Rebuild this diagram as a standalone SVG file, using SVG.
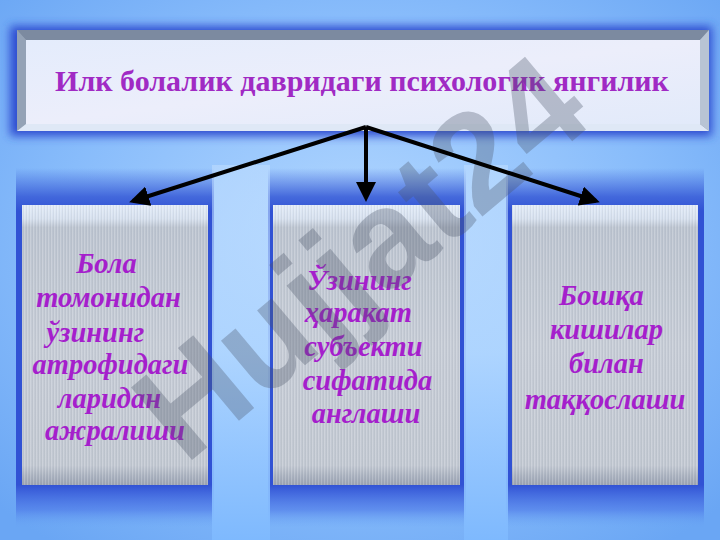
<svg xmlns="http://www.w3.org/2000/svg" width="720" height="540" viewBox="0 0 720 540">
  <defs>
    <radialGradient id="bg" cx="0.5" cy="0.45" r="0.7">
      <stop offset="0" stop-color="#b4d8ff"/>
      <stop offset="0.6" stop-color="#88bcfb"/>
      <stop offset="1" stop-color="#6aa6f4"/>
    </radialGradient>
    <linearGradient id="colShade" x1="0" y1="0" x2="0" y2="1">
      <stop offset="0" stop-color="#3a5ed8" stop-opacity="0"/>
      <stop offset="0.08" stop-color="#3a5ed8" stop-opacity="0.9"/>
      <stop offset="0.12" stop-color="#3152d4" stop-opacity="1"/>
      <stop offset="0.88" stop-color="#3152d4" stop-opacity="1"/>
      <stop offset="0.95" stop-color="#4a74e6" stop-opacity="0.6"/>
      <stop offset="1" stop-color="#6aa6f4" stop-opacity="0"/>
    </linearGradient>
    <linearGradient id="gap" x1="0" y1="0" x2="0" y2="1">
      <stop offset="0" stop-color="#c4e0ff" stop-opacity="0.5"/>
      <stop offset="0.5" stop-color="#b0d6ff" stop-opacity="0.9"/>
      <stop offset="1" stop-color="#7fbaff" stop-opacity="0.9"/>
    </linearGradient>
    <linearGradient id="boxFill" x1="0" y1="0" x2="0" y2="1">
      <stop offset="0" stop-color="#e2ebf8"/>
      <stop offset="0.05" stop-color="#d6e0ee"/>
      <stop offset="0.08" stop-color="#bcc4d0"/>
      <stop offset="0.5" stop-color="#c6ccd6"/>
      <stop offset="0.93" stop-color="#c2c8d2"/>
      <stop offset="0.97" stop-color="#a8b0be"/>
      <stop offset="1" stop-color="#9aa2b2"/>
    </linearGradient>
    <pattern id="stripes" width="3" height="12" patternUnits="userSpaceOnUse">
      <rect x="0" y="0" width="1" height="12" fill="#ffffff" opacity="0.18"/>
      <rect x="2" y="0" width="1" height="12" fill="#8a92a0" opacity="0.12"/>
    </pattern>
    <linearGradient id="titleFill" x1="0" y1="0" x2="1" y2="1">
      <stop offset="0" stop-color="#e4ecfc"/>
      <stop offset="0.5" stop-color="#eceefb"/>
      <stop offset="1" stop-color="#e2eafa"/>
    </linearGradient>
    <filter id="blur" x="-10%" y="-30%" width="120%" height="160%">
      <feGaussianBlur stdDeviation="5"/>
    </filter>
    <marker id="arr" markerWidth="5" markerHeight="5" refX="4" refY="2.5" orient="auto" markerUnits="strokeWidth">
      <path d="M0,0 L5,2.5 L0,5 Z" fill="#000"/>
    </marker>
    <style>
      .title { font-family: "Liberation Serif", "DejaVu Serif", serif; font-weight: bold; font-size: 30px; fill: #a02ac4; text-anchor: middle; }
      .lbl { font-family: "Liberation Serif", "DejaVu Serif", serif; font-weight: bold; font-style: italic; font-size: 28.5px; fill: #a51fcc; text-anchor: middle; }
      .conn { stroke: #000; stroke-width: 4; fill: none; }
      .wm { font-family: "Liberation Sans", "DejaVu Sans", sans-serif; font-weight: bold; font-size: 138px; fill: #4a5468; opacity: 0.32; }
    </style>
  </defs>

  <!-- background -->
  <rect width="720" height="540" fill="url(#bg)"/>

  <!-- column shades -->
  <rect x="16" y="168" width="198" height="360" fill="url(#colShade)"/>
  <rect x="268" y="168" width="198" height="360" fill="url(#colShade)"/>
  <rect x="506" y="168" width="198" height="360" fill="url(#colShade)"/>
  <rect x="212" y="165" width="58" height="375" fill="url(#gap)"/>
  <rect x="464" y="165" width="44" height="375" fill="url(#gap)"/>

  <!-- title node -->
  <g id="title">
    <rect x="10" y="26" width="702" height="110" fill="#2e4cd0" filter="url(#blur)"/>
    <rect x="17" y="30" width="692" height="101" fill="#8e9cb0"/>
    <polygon points="17,30 709,30 700,40 26,40" fill="#7c8aa0"/>
    <polygon points="17,30 26,40 26,124 17,131" fill="#94a2b6"/>
    <polygon points="17,131 26,124 700,124 709,131" fill="#dfe8f6"/>
    <polygon points="709,30 709,131 700,124 700,40" fill="#b8c4d4"/>
    <rect x="26" y="40" width="674" height="84" fill="url(#titleFill)"/>
    <text class="title" x="362" y="91">Илк болалик давридаги психологик янгилик</text>
  </g>

  <!-- boxes -->
  <g id="box1">
    <rect x="22" y="205" width="186" height="280" fill="url(#boxFill)"/>
    <rect x="22" y="205" width="186" height="280" fill="url(#stripes)"/>
    <text class="lbl">
      <tspan x="110" y="273">Бола</tspan>
      <tspan x="112" y="307">томонидан</tspan>
      <tspan x="99" y="342">ўзининг</tspan>
      <tspan x="114" y="374">атрофидаги</tspan>
      <tspan x="113" y="408">ларидан</tspan>
      <tspan x="115" y="440">ажралиши</tspan>
    </text>
  </g>
  <g id="box2">
    <rect x="273" y="205" width="187" height="280" fill="url(#boxFill)"/>
    <rect x="273" y="205" width="187" height="280" fill="url(#stripes)"/>
    <text class="lbl">
      <tspan x="363" y="290">Ўзининг</tspan>
      <tspan x="362" y="322">ҳаракат</tspan>
      <tspan x="367" y="356">субъекти</tspan>
      <tspan x="371" y="390">сифатида</tspan>
      <tspan x="366" y="423">англаши</tspan>
    </text>
  </g>
  <g id="box3">
    <rect x="512" y="205" width="186" height="280" fill="url(#boxFill)"/>
    <rect x="512" y="205" width="186" height="280" fill="url(#stripes)"/>
    <text class="lbl">
      <tspan x="605" y="305">Бошқа</tspan>
      <tspan x="610" y="339">кишилар</tspan>
      <tspan x="610" y="373">билан</tspan>
      <tspan x="605" y="409">таққослаши</tspan>
    </text>
  </g>

  <!-- watermark -->
  <text class="wm" transform="translate(185,466) rotate(-40)">Hujjat24</text>

  <!-- connectors -->
  <g id="connectors">
    <line class="conn" x1="366" y1="127" x2="133" y2="201" marker-end="url(#arr)"/>
    <line class="conn" x1="366" y1="127" x2="366" y2="198" marker-end="url(#arr)"/>
    <line class="conn" x1="366" y1="127" x2="596" y2="201" marker-end="url(#arr)"/>
  </g>
</svg>
